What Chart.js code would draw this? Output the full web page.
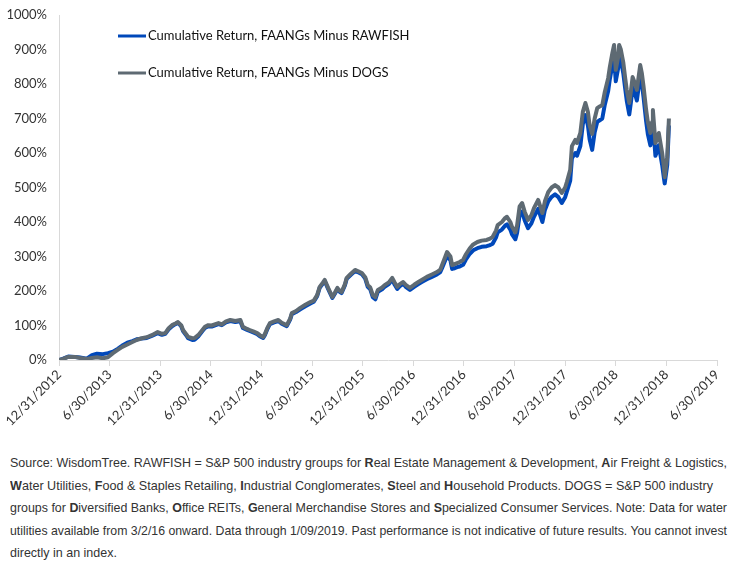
<!DOCTYPE html>
<html>
<head>
<meta charset="utf-8">
<script src="https://cdn.jsdelivr.net/npm/chart.js@4"></script>
<style>
  body { margin: 0; background: #fff; }
  #wrap { position: relative; width: 737px; height: 566px; overflow: hidden; }
  #chart { position: absolute; left: 0; top: 0; }
  #note {
    position: absolute; left: 10px; top: 452px;
    font-family: "Liberation Sans", Arial, sans-serif;
    font-size: 13px; line-height: 22.6px; color: #333; white-space: nowrap;
  }
  #note span { display: inline-block; transform-origin: 0 50%; }
</style>
</head>
<body>
<div id="wrap">
  <canvas id="chart" width="737" height="440"></canvas>
  <div id="note">
    <div><span>Source: WisdomTree. RAWFISH = S&amp;P 500 industry groups for <b>R</b>eal Estate Management &amp; Development, <b>A</b>ir Freight &amp; Logistics,</span></div>
    <div><span><b>W</b>ater Utilities, <b>F</b>ood &amp; Staples Retailing, <b>I</b>ndustrial Conglomerates, <b>S</b>teel and <b>H</b>ousehold Products. DOGS = S&amp;P 500 industry</span></div>
    <div><span>groups for <b>D</b>iversified Banks, <b>O</b>ffice REITs, <b>G</b>eneral Merchandise Stores and <b>S</b>pecialized Consumer Services. Note: Data for water</span></div>
    <div><span>utilities available from 3/2/16 onward. Data through 1/09/2019. Past performance is not indicative of future results. You cannot invest</span></div>
    <div><span>directly in an index.</span></div>
  </div>
</div>
<script>
// x = months since 12/31/2012
let months = [
  0, 0.5, 1.1, 1.9, 2.5, 3.3, 3.9, 4.5, 5.2, 5.8,
  6.4, 7.0, 7.5, 8.1, 8.7, 9.2, 9.8, 10.4, 11.0, 11.7,
  12.2, 12.6, 13.0, 13.4, 13.8, 14.1, 14.5, 14.7, 15.1, 15.3,
  15.8, 16.1, 16.5, 17.0, 17.3, 17.7, 18.1, 18.9, 19.3, 19.8,
  20.3, 20.9, 21.5, 21.8, 22.3, 22.6, 23.1, 23.5, 23.8, 24.2,
  24.4, 24.7, 25.0, 25.5, 26.0, 26.4, 27.0, 27.4, 27.6, 28.1,
  28.6, 29.2, 29.8, 30.2, 30.6, 30.9, 31.3, 31.5, 31.9, 32.4,
  32.7, 33.0, 33.3, 33.5, 33.9, 34.1, 34.6, 35.1, 35.4, 35.9,
  36.3, 36.6, 36.9, 37.2, 37.5, 37.8, 38.3, 38.6, 39.1, 39.5,
  39.8, 40.1, 40.4, 40.8, 41.1, 41.6, 42.1, 42.6, 43.0, 43.6,
  44.2, 44.8, 45.2, 45.4, 45.8, 46.0, 46.4, 46.6, 46.9, 47.2,
  47.5, 47.9, 48.2, 48.7, 49.1, 49.6, 50.1, 50.7, 51.1, 51.4,
  51.8, 52.0, 52.5, 52.9, 53.1, 53.5, 53.7, 54.1, 54.3, 54.6,
  54.9, 55.2, 55.6, 56.0, 56.3, 56.8, 57.3, 57.6, 58.0, 58.4,
  58.8, 59.2, 59.6, 60.0, 60.2, 60.6, 60.8, 61.2, 61.4, 61.8,
  62.1, 62.4, 62.7, 62.9, 63.2, 63.5, 63.8, 64.1, 64.4, 64.7,
  65.1, 65.3, 65.6, 65.8, 66.0, 66.3, 66.4, 66.6, 66.9, 67.1,
  67.3, 67.6, 67.8, 68.0, 68.3, 68.5, 68.9, 69.1, 69.3, 69.6,
  69.8, 70.1, 70.3, 70.4, 70.7, 70.9, 71.1, 71.5, 71.7, 71.8,
  72.1, 72.3
];

let rawfish = [
  0, 4, 10, 9, 7, 4, 14, 18, 17, 20,
  24, 33, 42, 50, 55, 60, 62, 64, 70, 78,
  73, 76, 89, 98, 104, 108, 97, 84, 71, 63,
  58, 59, 68, 84, 93, 98, 97, 104, 101, 109,
  113, 110, 112, 93, 87, 84, 79, 75, 69, 64,
  72, 90, 104, 109, 113, 105, 98, 117, 133, 139,
  147, 156, 164, 169, 185, 209, 222, 229, 206, 180,
  192, 206, 197, 194, 217, 235, 247, 258, 255, 249,
  236, 212, 205, 182, 176, 198, 205, 212, 220, 233,
  218, 206, 214, 221, 212, 203, 212, 220, 226, 234,
  241, 248, 255, 266, 290, 302, 289, 264, 266, 269,
  271, 276, 290, 308, 318, 324, 328, 330, 333, 337,
  355, 370, 378, 390, 393, 378, 364, 350, 368, 420,
  430, 405, 382, 396, 415, 438, 400, 435, 460, 473,
  480, 472, 455, 472, 488, 520, 585, 600, 592, 620,
  685, 710, 680, 640, 609, 660, 690, 695, 700, 740,
  780, 815, 855, 878, 808, 848, 882, 870, 830, 790,
  752, 712, 748, 790, 770, 752, 825, 800, 760, 692,
  655, 622, 655, 690, 592, 605, 622, 565, 528, 512,
  565, 680
];

let dogs = [
  0, 3, 9, 9, 6, 3, 6, 8, 5, 8,
  20, 30, 38, 45, 52, 58, 63, 66, 72, 81,
  76, 78, 92, 101, 106, 110, 100, 87, 74, 67,
  63, 64, 72, 87, 96, 101, 100, 107, 103, 112,
  116, 113, 116, 96, 90, 87, 82, 78, 72, 67,
  75, 93, 107, 112, 116, 108, 101, 120, 136, 142,
  151, 160, 168, 172, 188, 212, 225, 232, 209, 183,
  195, 209, 200, 197, 220, 238, 250, 261, 258, 252,
  240, 217, 210, 188, 182, 203, 210, 217, 225, 238,
  224, 212, 220, 226, 218, 209, 218, 226, 232, 241,
  248, 255, 262, 275, 300, 313, 300, 275, 278, 281,
  284, 290, 305, 324, 335, 342, 346, 348, 352, 357,
  375, 391, 400, 412, 415, 400, 386, 370, 390, 445,
  455, 430, 406, 420, 440, 464, 426, 460, 487, 500,
  507, 500, 484, 500, 516, 551, 620, 638, 629, 658,
  720, 745, 719, 680, 655, 700, 730, 735, 739, 777,
  817, 850, 890, 913, 841, 880, 913, 900, 861, 820,
  783, 745, 780, 820, 800, 783, 855, 830, 791, 725,
  690, 658, 690, 725, 629, 640, 658, 600, 560, 530,
  588, 700
];

let tickLabels = ['12/31/2012', '6/30/2013', '12/31/2013', '6/30/2014', '12/31/2014',
  '6/30/2015', '12/31/2015', '6/30/2016', '12/31/2016', '6/30/2017',
  '12/31/2017', '6/30/2018', '12/31/2018', '6/30/2019'];

let seriesNames = ['Cumulative Return, FAANGs Minus RAWFISH', 'Cumulative Return, FAANGs Minus DOGS'];
let colors = ['#0048ba', '#5e6a73'];

function pts(vals) {
  return vals.map(function (v, i) { return { x: months[i], y: v }; });
}

// the original note is set in a narrow font: squeeze each line to its width there
const noteWidths = [717, 703, 717, 717, 0];
const spans = document.querySelectorAll('#note span');
const k0 = noteWidths[0] / spans[0].getBoundingClientRect().width;
spans.forEach(function (s, i) {
  const k = noteWidths[i] ? noteWidths[i] / s.getBoundingClientRect().width : k0;
  s.style.transform = 'scaleX(' + k + ')';
});

// legend drawn inside the plot, top left
const innerLegend = {
  id: 'innerLegend',
  afterDraw(chart) {
    const c = chart.ctx;
    c.save();
    c.font = '13px Lato';
    c.textBaseline = 'middle';
    chart.data.datasets.forEach(function (ds, i) {
      const y = 36 + i * 37;
      c.strokeStyle = ds.borderColor;
      c.lineWidth = 3;
      c.beginPath();
      c.moveTo(118, y);
      c.lineTo(146, y);
      c.stroke();
      c.fillStyle = '#111';
      c.fillText(ds.label, 148, y);
    });
    c.restore();
  }
};

Chart.defaults.font.family = 'Lato';
Chart.defaults.font.size = 13;
Chart.defaults.color = '#333';

new Chart(document.getElementById('chart'), {
  type: 'line',
  data: {
    datasets: [
      { label: seriesNames[0], data: pts(rawfish), borderColor: colors[0], order: 1 },
      { label: seriesNames[1], data: pts(dogs), borderColor: colors[1], order: 0 }
    ]
  },
  options: {
    responsive: false,
    animation: false,
    layout: { padding: { top: 15, right: 20, left: 0, bottom: 0 } },
    elements: {
      line: { borderWidth: 4, tension: 0, borderJoinStyle: 'round' },
      point: { radius: 0 }
    },
    plugins: { legend: { display: false }, tooltip: { enabled: false } },
    scales: {
      x: {
        type: 'linear',
        min: 0, max: 78,
        grid: { display: true, drawOnChartArea: false, drawTicks: true, tickLength: 6, color: '#d9d9d9' },
        border: { display: true, color: '#d9d9d9' },
        ticks: {
          stepSize: 6, autoSkip: false, minRotation: 45, maxRotation: 45, padding: 1,
          callback: function (v) { return tickLabels[Math.round(v / 6)]; }
        },
        afterFit: function (s) { s.height = 80; }
      },
      y: {
        min: 0, max: 1000,
        // invisible tick marks give the gap between labels and axis
        grid: { display: true, drawOnChartArea: false, drawTicks: true, tickLength: 9, color: 'rgba(0,0,0,0)' },
        border: { display: true, color: '#d9d9d9' },
        ticks: { stepSize: 100, padding: 3, callback: function (v) { return v + '%'; } },
        afterFit: function (s) { s.width = 59; }
      }
    }
  },
  plugins: [innerLegend]
});
</script>
</body>
</html>
